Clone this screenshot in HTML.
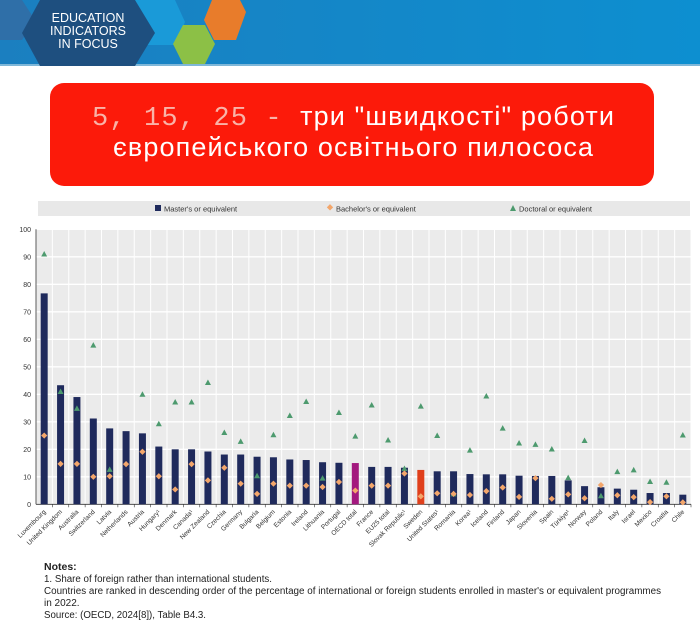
<!DOCTYPE html>
<html><head><meta charset="utf-8"><style>
body{margin:0;width:700px;height:638px;overflow:hidden;background:#fff;font-family:"Liberation Sans",sans-serif}
</style></head><body>
<svg id="s" width="700" height="638" xmlns="http://www.w3.org/2000/svg">
<defs><linearGradient id="hg" x1="0" x2="1"><stop offset="0" stop-color="#1b7fc0"/><stop offset="1" stop-color="#0d8fd0"/></linearGradient></defs>
<g>
<rect x="0" y="0" width="700" height="66" fill="url(#hg)"/>
<rect x="0" y="64" width="700" height="2" fill="#7fb7d8"/>
<polygon points="0,0 22,0 35,20 22,40 0,40" fill="#2f6fa8"/>
<polygon points="135,0 175,0 185,22 175,45 140,45 128,22" fill="#1a9ad8"/>
<polygon points="40,0 135,0 155,33 135,66 40,66 22,33" fill="#1e4f7f"/>
<polygon points="183,25 205,25 215,44 205,64 183,64 173,44" fill="#8cc046"/>
<polygon points="212,0 240,0 246,12 236,40 214,40 204,20" fill="#e87c2b"/>
<text x="88" y="22" fill="#fff" font-size="12.5" text-anchor="middle">EDUCATION</text>
<text x="88" y="35" fill="#fff" font-size="12.5" text-anchor="middle">INDICATORS</text>
<text x="88" y="48" fill="#fff" font-size="12.5" text-anchor="middle">IN FOCUS</text>
</g>
<g>
<rect x="50" y="83" width="604" height="103" rx="14" fill="#fc1a0a"/>
<text x="353" y="125" font-size="27" text-anchor="middle" fill="#fff" textLength="522" lengthAdjust="spacing"><tspan font-family="Liberation Mono,monospace" fill="#f9b3a8">5, 15, 25 - </tspan><tspan font-family="Liberation Sans,sans-serif">три "швидкості" роботи</tspan></text>
<text x="353" y="156" font-size="27" text-anchor="middle" fill="#fff" font-family="Liberation Sans,sans-serif" textLength="480" lengthAdjust="spacing">європейського освітнього пилососа</text>
</g>
<g>
<rect x="38" y="201" width="652" height="15" fill="#e8e8e8"/>
<rect x="155" y="205" width="6" height="6" fill="#1f2a5c"/>
<text x="164" y="211.5" font-size="7.5" fill="#333">Master's or equivalent</text>
<rect x="328" y="205" width="4.5" height="4.5" fill="#f3a66b" transform="rotate(45 330 207)"/>
<text x="336" y="211.5" font-size="7.5" fill="#333">Bachelor's or equivalent</text>
<polygon points="510,211 513,205 516,211" fill="#4d9a6e"/>
<text x="519" y="211.5" font-size="7.5" fill="#333">Doctoral or equivalent</text>
</g>
<g id="chart"></g>
<g font-size="10" fill="#222">
<text x="44" y="570" font-weight="bold" font-size="10.5">Notes:</text>
<text x="44" y="582" textLength="228" lengthAdjust="spacingAndGlyphs">1. Share of foreign rather than international students.</text>
<text x="44" y="594" textLength="617" lengthAdjust="spacingAndGlyphs">Countries are ranked in descending order of the percentage of international or foreign students enrolled in master's or equivalent programmes</text>
<text x="44" y="606">in 2022.</text>
<text x="44" y="618" textLength="162" lengthAdjust="spacingAndGlyphs">Source: (OECD, 2024[8]), Table B4.3.</text>
</g>
</svg>
<script>
const categories=["Luxembourg","United Kingdom","Australia","Switzerland","Latvia","Netherlands","Austria","Hungary¹","Denmark","Canada¹","New Zealand","Czechia","Germany","Bulgaria","Belgium","Estonia","Ireland","Lithuania","Portugal","OECD total","France","EU25 total","Slovak Republic¹","Sweden","United States¹","Romania","Korea¹","Iceland","Finland","Japan","Slovenia","Spain","Türkiye¹","Norway","Poland","Italy","Israel","Mexico","Croatia","Chile"];
const masters=[76.7,43.3,39,31.2,27.6,26.6,25.8,21,20,20,19.2,18.1,18.1,17.3,17.1,16.3,16.1,15.3,15.1,15.0,13.6,13.6,13.3,12.5,12.0,12.0,11.0,10.9,10.9,10.4,10.3,10.3,8.7,6.6,6.2,5.7,5.3,4.1,4.1,3.5];
const bachelors=[25,14.7,14.7,10,10.2,14.6,19.1,10.2,5.4,14.6,8.7,13.3,7.5,3.8,7.5,6.8,6.8,6.3,8.1,5.0,6.8,6.8,11.2,2.9,4.0,3.8,3.4,4.8,6.1,2.7,9.5,2.0,3.6,2.2,7.0,3.3,2.6,0.8,2.9,0.7];
const doctoral=[91,41,34.9,57.9,12.7,null,40,29.3,37.2,37.2,44.3,26.1,22.9,10.4,25.3,32.3,37.4,9.5,33.4,24.8,36.1,23.4,13.0,35.7,25.0,3.8,19.7,39.4,27.7,22.3,21.8,20.1,9.7,23.2,3.1,11.9,12.5,8.3,8.0,25.2];
const yTicks=[0,10,20,30,40,50,60,70,80,90,100];
const X0=36,X1=691,Y0=504.3,Y1=229.3;
const bw=(X1-X0)/categories.length;
const y=v=>Y0-(v/100)*(Y0-Y1);
const x=i=>X0+bw*(i+0.5);
const NS="http://www.w3.org/2000/svg";
const g=document.getElementById('chart');
function mk(t,a,p){const e=document.createElementNS(NS,t);for(const k in a)e.setAttribute(k,a[k]);(p||g).appendChild(e);return e;}
const bg=mk('rect',{x:X0,y:Y1,width:X1-X0,height:Y0-Y1,fill:'#ebebeb'});


yTicks.forEach(t=>{
  const l=mk('line',{x1:X0,x2:X1,y1:y(t),y2:y(t),stroke:'#fff','stroke-width':1.3});
  
  
  const tx=mk('text',{x:X0-5,y:y(t)+2.5,'font-size':7,'text-anchor':'end',fill:'#333'});
  tx.textContent=t;
  
  
});
for(let i=0;i<=categories.length;i++){
  const l=mk('line',{x1:X0+bw*i,x2:X0+bw*i,y1:Y1,y2:Y0,stroke:'#fff','stroke-width':1});
  
  
}
mk('line',{x1:X0,x2:X0,y1:Y1,y2:Y0,stroke:'#333','stroke-width':0.8});
mk('line',{x1:X0,x2:X1,y1:Y0,y2:Y0,stroke:'#333','stroke-width':0.8});
categories.forEach((c,i)=>{
  const col=c==="OECD total"?'#a3187e':c==="Sweden"?'#e0401c':'#1f2a5c';
  const b=mk('rect',{x:x(i)-3.5,y:y(masters[i]),width:7,height:Y0-y(masters[i]),fill:col});
  
  
  mk('line',{x1:X0+bw*(i+1),x2:X0+bw*(i+1),y1:Y0,y2:Y0+3,stroke:'#333','stroke-width':0.6});
  const lb=mk('text',{x:x(i)+2,y:Y0+8,'font-size':6.6,'text-anchor':'end',fill:'#333',transform:`rotate(-45 ${x(i)+2} ${Y0+8})`});
  lb.textContent=c;
  
  
});
categories.forEach((c,i)=>{
  if(doctoral[i]!=null){
    const yy=y(doctoral[i]);
    const t=mk('polygon',{points:`${x(i)-3},${yy+2.5} ${x(i)},${yy-3} ${x(i)+3},${yy+2.5}`,fill:'#4d9a6e'});
    
    
  }
  const yb=y(bachelors[i]);
  const d=mk('rect',{x:x(i)-2.2,y:yb-2.2,width:4.4,height:4.4,fill:'#f3a66b',transform:`rotate(45 ${x(i)} ${yb})`});
  
  
});
</script>
</body></html>
